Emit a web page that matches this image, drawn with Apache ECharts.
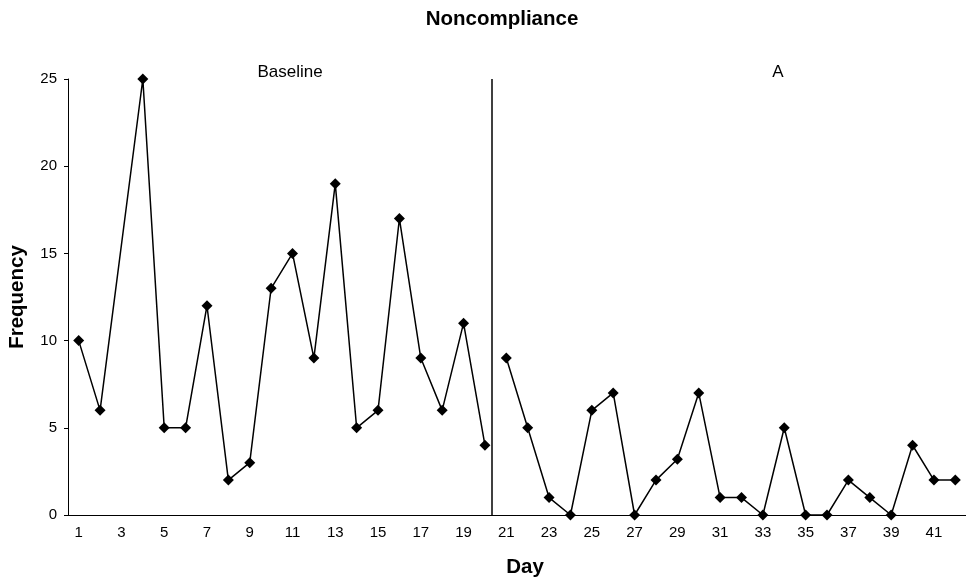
<!DOCTYPE html>
<html>
<head>
<meta charset="utf-8">
<script src="https://cdn.jsdelivr.net/npm/echarts@6/dist/echarts.min.js"></script>
<style>html,body{margin:0;padding:0;background:#fff;}#c{width:966px;height:579px;}</style>
</head>
<body>
<div id="c"></div>
<script>
var days = [];
for (var d = 1; d <= 42; d++) days.push(String(d));
var baseline = [10, 6, null, 25, 5, 5, 12, 2, 3, 13, 15, 9, 19, 5, 6, 17, 9, 6, 11, 4,
  null, null, null, null, null, null, null, null, null, null, null, null, null, null, null, null, null, null, null, null, null, null];
var phaseA = [null, null, null, null, null, null, null, null, null, null, null, null, null, null, null, null, null, null, null, null,
  9, 5, 1, 0, 6, 7, 0, 2, 3.2, 7, 1, 1, 0, 5, 0, 0, 2, 1, 0, 4, 2, 2];
var yTicks = [0, 5, 10, 15, 20, 25];
var phaseChange = 20.3;
var phaseNames = ['Baseline', 'A'];

var FONT = 'Liberation Sans, Arial, Helvetica, sans-serif';
var chart = echarts.init(document.getElementById('c'));
var lineStyle = { color: '#000', width: 1.5 };
var itemStyle = { color: '#000' };
chart.setOption({
  animation: false,
  backgroundColor: '#fff',
  grid: { left: 68, right: 0, top: 79, bottom: 64 },
  xAxis: [{
    type: 'category',
    data: days,
    boundaryGap: true,
    axisLine: { lineStyle: { color: '#000', width: 1 } },
    axisTick: { interval: 1, length: 4, lineStyle: { color: '#000' } },
    axisLabel: { interval: 1, color: '#000', fontSize: 15, fontFamily: FONT, margin: 10 },
    splitLine: { show: false }
  }, {
    type: 'value',
    min: 0.5,
    max: 42.5,
    show: false
  }],
  yAxis: {
    type: 'value',
    min: yTicks[0],
    max: yTicks[yTicks.length - 1],
    interval: 5,
    axisLine: { show: true, lineStyle: { color: '#000', width: 1 } },
    axisTick: { show: true, length: 4, lineStyle: { color: '#000' } },
    axisLabel: { color: '#000', fontSize: 15, fontFamily: FONT, margin: 11 },
    splitLine: { show: false }
  },
  graphic: [
    { type: 'text', x: 502, y: 19, style: { text: 'Noncompliance', font: 'bold 20.5px ' + FONT, fill: '#000', align: 'center', verticalAlign: 'middle' } },
    { type: 'text', x: 525, y: 567, style: { text: 'Day', font: 'bold 20.5px ' + FONT, fill: '#000', align: 'center', verticalAlign: 'middle' } },
    { type: 'text', x: 17, y: 297, rotation: Math.PI / 2, style: { text: 'Frequency', font: 'bold 20.5px ' + FONT, fill: '#000', align: 'center', verticalAlign: 'middle' } },
    { type: 'text', x: 290, y: 72, style: { text: phaseNames[0], font: '17px ' + FONT, fill: '#000', align: 'center', verticalAlign: 'middle' } },
    { type: 'text', x: 778, y: 72, style: { text: phaseNames[1], font: '17px ' + FONT, fill: '#000', align: 'center', verticalAlign: 'middle' } }
  ],
  series: [{
    type: 'line',
    data: baseline,
    connectNulls: true,
    symbol: 'diamond',
    symbolSize: 11,
    lineStyle: lineStyle,
    itemStyle: itemStyle
  }, {
    type: 'line',
    data: phaseA,
    symbol: 'diamond',
    symbolSize: 11,
    lineStyle: lineStyle,
    itemStyle: itemStyle
  }, {
    type: 'line',
    xAxisIndex: 1,
    data: [[phaseChange, null]],
    symbol: 'none',
    markLine: {
      silent: true,
      symbol: 'none',
      label: { show: false },
      lineStyle: { color: '#000', width: 1.5, type: 'solid' },
      data: [{ xAxis: phaseChange }]
    }
  }]
});
</script>
</body>
</html>
